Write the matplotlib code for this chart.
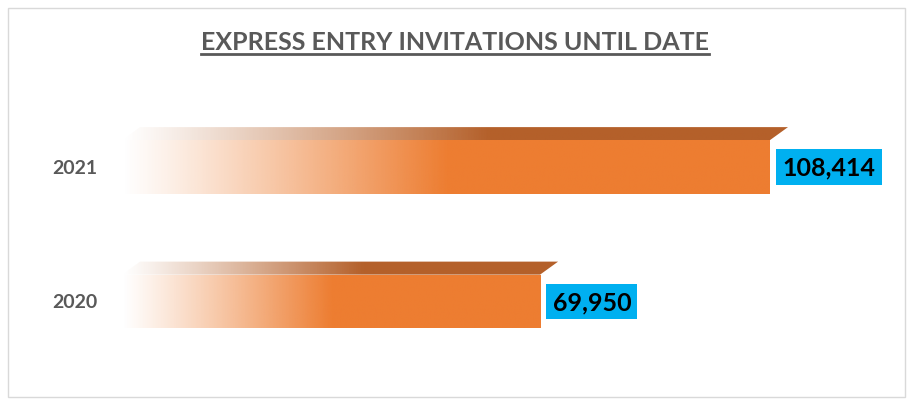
import numpy as np
import matplotlib.pyplot as plt
from matplotlib.patches import Rectangle, Polygon
from matplotlib.lines import Line2D
from matplotlib.colors import to_rgb

years = ['2020', '2021']
invites = [69950, 108414]
labels = ['69,950', '108,414']
title = 'EXPRESS ENTRY INVITATIONS UNTIL DATE'

orange = '#ED7D31'
dark = '#B4602A'
blue = '#00B0F0'
grey = '#595959'
plt.rcParams['font.family'] = ['Lato', 'DejaVu Sans']

W, H = 913, 406
fig = plt.figure(figsize=(W / 100, H / 100), dpi=100)
# axes placed so that x=0 is at px 122, bars centred on px 302 / 168
ax = fig.add_axes([122 / W, 26 / H, 778 / W, 320 / H])
ax.axis('off')

bh = 0.4
dx = 18 / 0.005977   # depth in data units
dy = 13 / 134.5

def ramp(col, n=256, frac=0.5):
    r, g, b = to_rgb(col)
    a = np.clip(np.linspace(0, 1, n) / frac, 0, 1) ** 1.1
    img = np.zeros((1, n, 4))
    img[..., 0], img[..., 1], img[..., 2], img[..., 3] = r, g, b, a
    return img

bars = ax.barh(range(len(years)), invites, height=bh, color='none', edgecolor='none')
for i, (b, v) in enumerate(zip(bars, invites)):
    y0 = i - bh / 2
    y1 = i + bh / 2
    im = ax.imshow(ramp(orange), extent=(0, v, y0, y1), aspect='auto', zorder=2)
    im.set_clip_path(b)
    top = Polygon([(0, y1), (v, y1), (v + dx, y1 + dy), (dx, y1 + dy)],
                  closed=True, facecolor='none', edgecolor='none')
    ax.add_patch(top)
    im2 = ax.imshow(ramp(dark, frac=0.55), extent=(0, v + dx, y1, y1 + dy), aspect='auto', zorder=2)
    im2.set_clip_path(top)
    ax.annotate(labels[i], (v, i), xytext=(9, 0), textcoords='offset points',
                ha='left', va='center', fontsize=18, fontweight='bold', color='black',
                bbox=dict(boxstyle='square,pad=0.25', fc=blue, ec='none'), zorder=4)
    ax.text(-(122 - 75) / 0.005977, i, years[i], ha='center', va='center',
            fontsize=14, fontweight='bold', color=grey)

ax.set_xlim(0, 778 / 0.005977)
ax.set_ylim(-0.576, 1.803)

t = fig.text(455 / W, 1 - 42 / H, title, ha='center', va='center',
             fontsize=18, fontweight='bold', color=grey)
fig.canvas.draw()
bb = t.get_window_extent()
fig.add_artist(Line2D([bb.x0 / W, bb.x1 / W], [(bb.y0 - 1) / H] * 2,
                      color=grey, lw=2, transform=fig.transFigure))
fig.add_artist(Rectangle((8 / W, 8 / H), 897 / W, 389 / H, transform=fig.transFigure,
                         fill=False, edgecolor='#D9D9D9', lw=1))

plt.savefig('out.png', dpi=100)
